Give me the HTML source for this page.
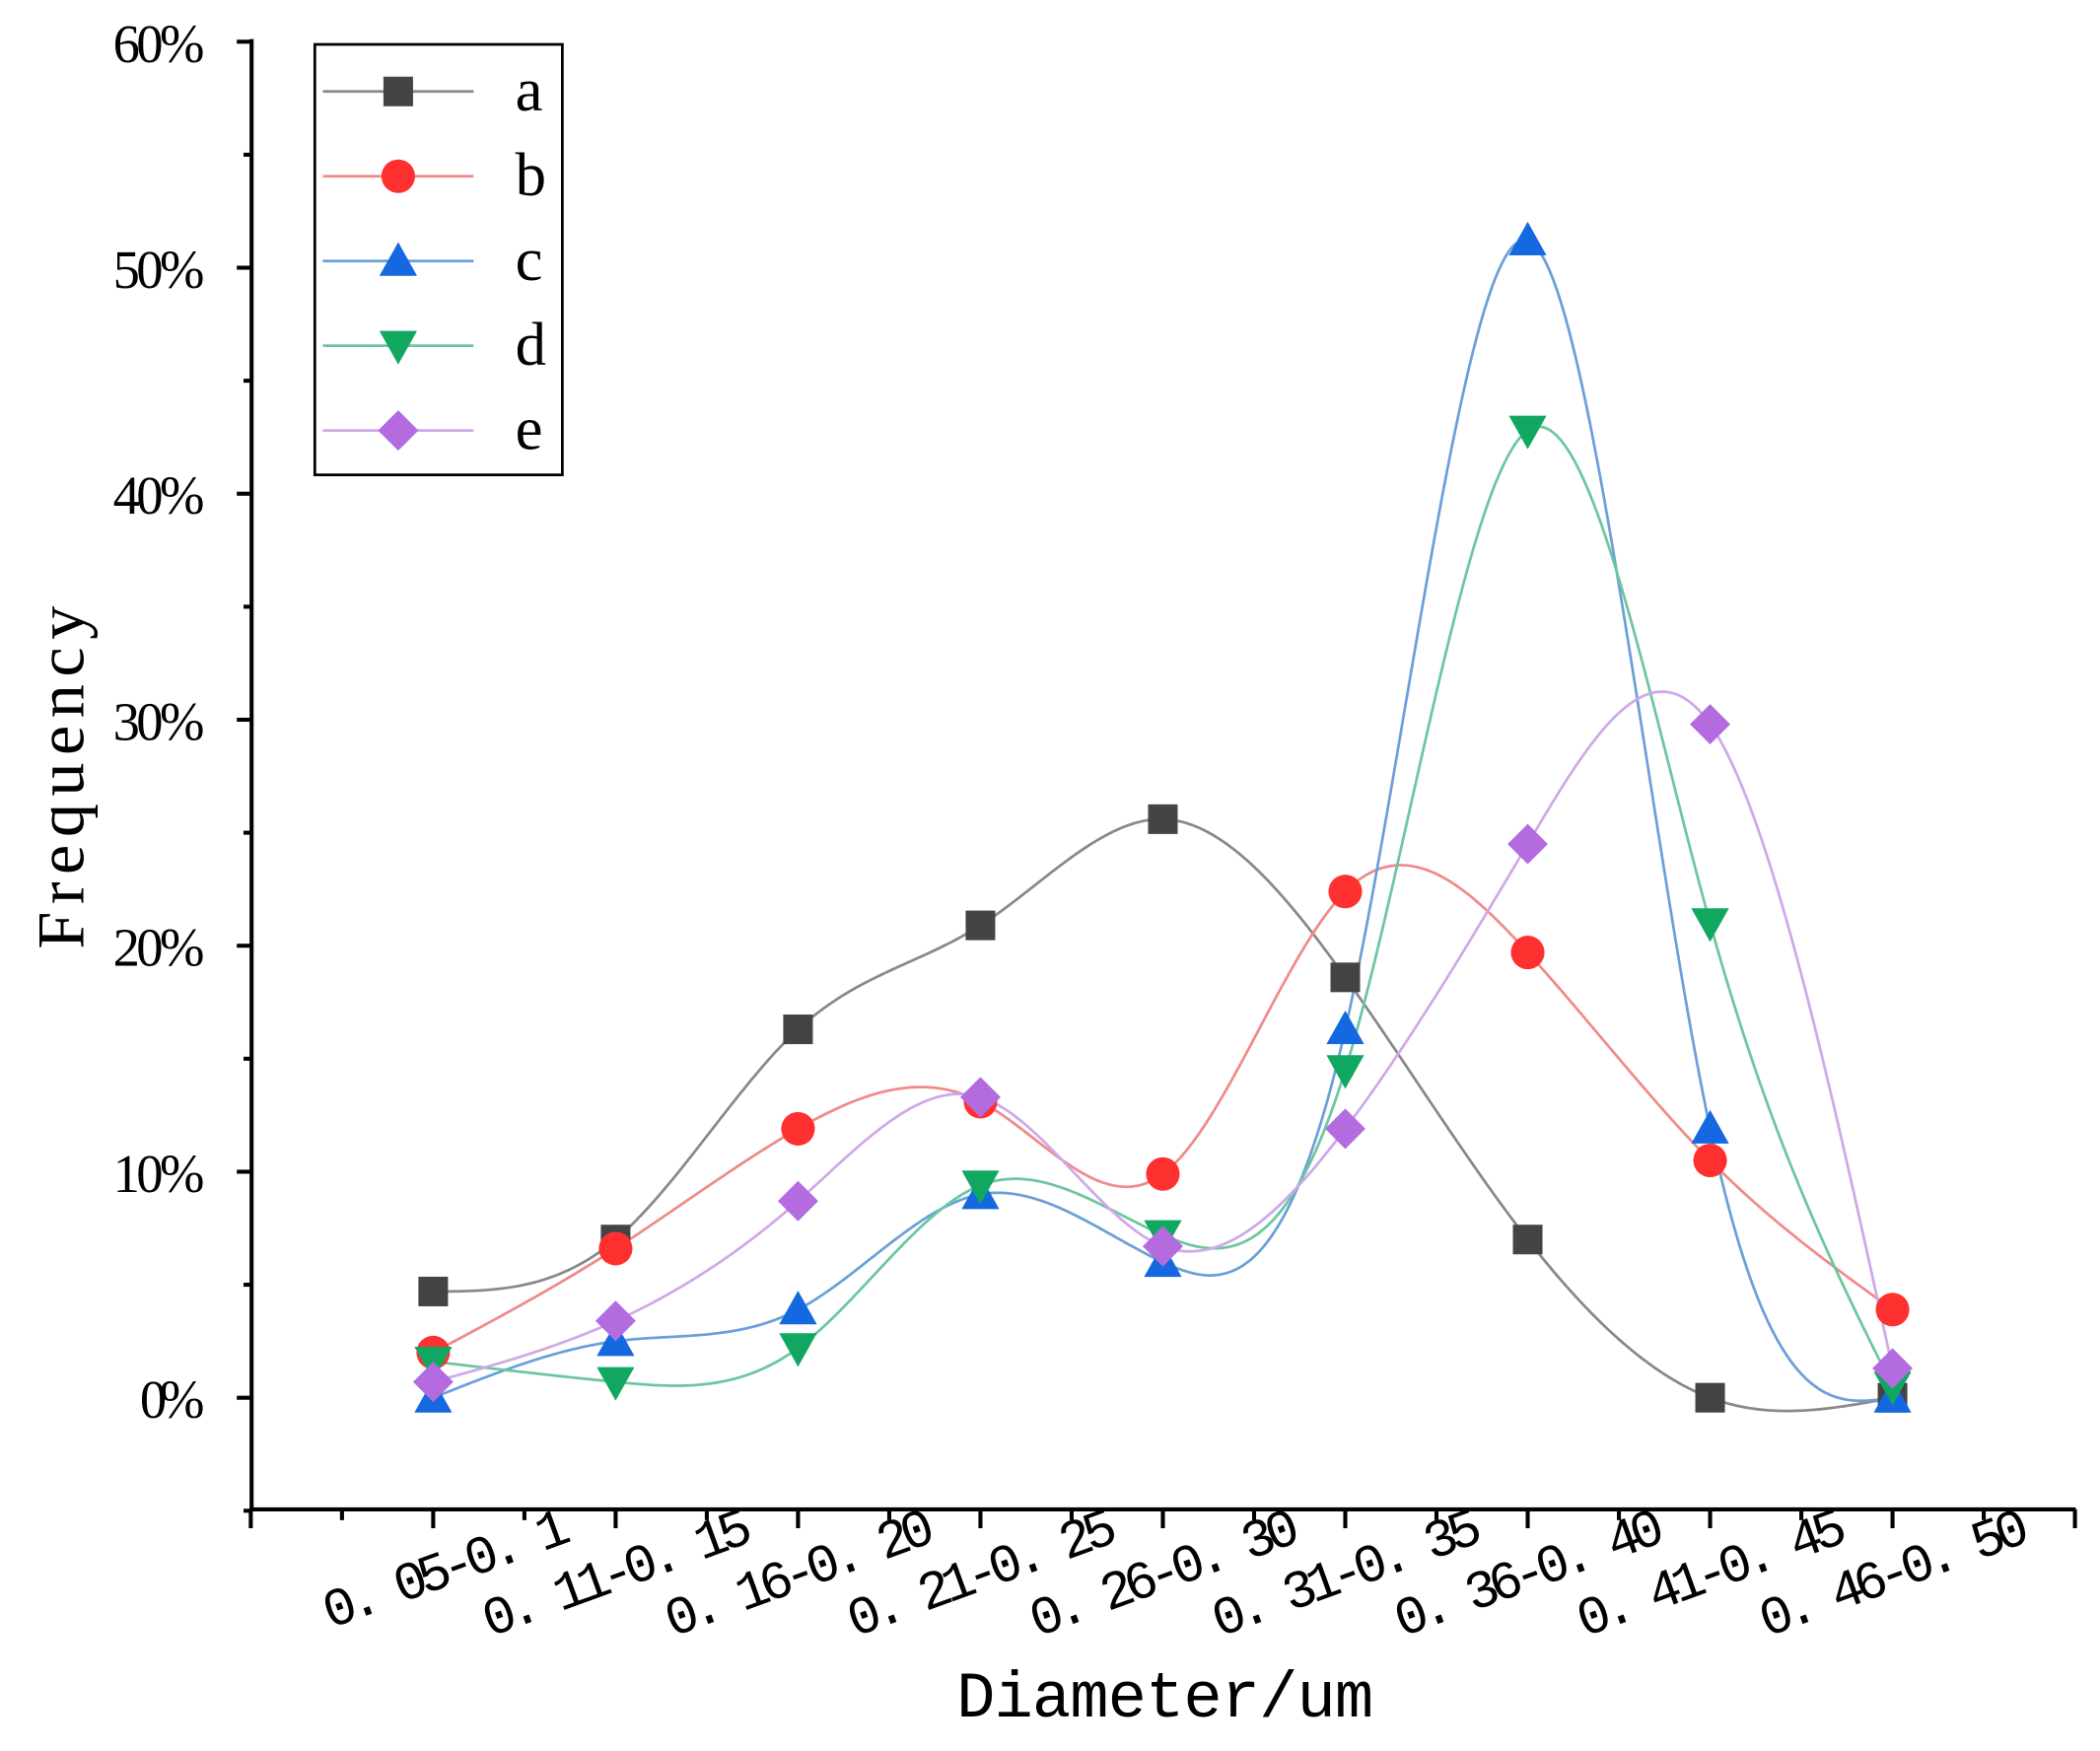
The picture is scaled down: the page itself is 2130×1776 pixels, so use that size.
<!DOCTYPE html>
<html><head><meta charset="utf-8"><style>html,body{margin:0;padding:0;background:#fff}svg{display:block}</style></head>
<body>
<svg id="s" width="2130" height="1776" viewBox="0 0 1561 1301.6" xmlns="http://www.w3.org/2000/svg">
<rect width="1561" height="1302" fill="#fff"/>
<g stroke="#000" stroke-width="3" fill="none">
<line x1="187" y1="29" x2="187" y2="1123"/>
<line x1="185.5" y1="1122" x2="1543" y2="1122"/>
</g>
<g id="yt" stroke="#000" stroke-width="3"></g>
<g id="xt" stroke="#000" stroke-width="3"></g>
<g font-family="Liberation Serif, serif" font-size="40" text-anchor="end" fill="#000">
<text x="152" y="46" textLength="68">60%</text><text x="152" y="214" textLength="68">50%</text><text x="152" y="382" textLength="68">40%</text>
<text x="152" y="550" textLength="68">30%</text><text x="152" y="718" textLength="68">20%</text><text x="152" y="886" textLength="68">10%</text><text x="152" y="1054" textLength="48">0%</text>
</g>
<g id="xl" font-family="Liberation Mono, monospace" font-size="40" fill="#000"></g>
<text transform="translate(62,578) rotate(-90)" text-anchor="middle" font-family="Liberation Serif, serif" font-size="50" textLength="255">Frequency</text>
<text x="866" y="1276" text-anchor="middle" font-family="Liberation Mono, monospace" font-size="48" textLength="310">Diameter/um</text>
<g id="curves"></g>
<g id="marks"></g>
<rect x="234" y="33" width="184" height="320" fill="none" stroke="#000" stroke-width="2"/>
<g id="leg" font-family="Liberation Serif, serif" font-size="46"></g>
</svg>
<script>
const NS="http://www.w3.org/2000/svg";
function el(p,t,a,txt){const e=document.createElementNS(NS,t);for(const k in a)e.setAttribute(k,a[k]);if(txt)e.textContent=txt;document.getElementById(p).appendChild(e);return e;}
const Y=v=>1039-v*16.8;
const X=i=>322+i*135.6;
for(let v=-5;v<=60;v+=5){const y=Y(v);el("yt","line",{x1:187,y1:y,x2:v%10==0?176:181,y2:y});}
for(let i=-1;i<=9;i++){const x=X(i);el("xt","line",{x1:x,y1:1122,x2:x,y2:1136});if(i<9)el("xt","line",{x1:x+67.8,y1:1122,x2:x+67.8,y2:1130});}
const labs=["0. 05-0. 1","0. 11-0. 15","0. 16-0. 20","0. 21-0. 25","0. 26-0. 30","0. 31-0. 35","0. 36-0. 40","0. 41-0. 45","0. 46-0. 50"];
labs.forEach((l,i)=>{const x=X(i)+104,y=1145;el("xl","text",{x:x,y:y,"text-anchor":"end",textLength:i==0?192:210,transform:`rotate(-20 ${x} ${y})`},l);});
const S=[
["a","#444","#888",[4.7,7.0,16.3,20.9,25.6,18.6,7.0,0,0],"sq"],
["b","#ff3030","#f08a8a",[2.0,6.6,11.9,13.1,9.9,22.4,19.7,10.5,3.9],"ci"],
["c","#1469e0","#6a9fd8",[0,2.5,3.9,9.0,6.0,16.3,51.2,11.9,0],"tu"],
["d","#10a860","#6cc6a0",[1.6,0.7,2.2,9.4,7.2,14.5,42.8,21.0,0.5],"td"],
["e","#b46be0","#d0a8e8",[0.7,3.4,8.7,13.3,6.7,11.9,24.5,29.8,1.3],"di"]];
function spline(ys){const n=ys.length;let a=ys.slice();
 let c=new Array(n).fill(0);let l=[],mu=[],z=[];l[0]=1;mu[0]=0;z[0]=0;
 for(let i=1;i<n-1;i++){const al=3*(a[i+1]-2*a[i]+a[i-1]);l[i]=4-mu[i-1];mu[i]=1/l[i];z[i]=(al-z[i-1])/l[i];}
 c[n-1]=0;for(let j=n-2;j>=0;j--){c[j]=j==0?0:z[j]-mu[j]*c[j+1];}
 let pts=[];for(let j=0;j<n-1;j++){const b=(a[j+1]-a[j])-(c[j+1]+2*c[j])/3,dd=(c[j+1]-c[j])/3;
  for(let t=0;t<1;t+=0.02){pts.push([X(j+t),Y(a[j]+b*t+c[j]*t*t+dd*t*t*t)]);}}
 pts.push([X(n-1),Y(a[n-1])]);return pts;}
function marker(g,type,x,y,col){
 if(type=="sq")el(g,"rect",{x:x-11,y:y-11,width:22,height:22,fill:col});
 if(type=="ci")el(g,"circle",{cx:x,cy:y,r:12.5,fill:col});
 if(type=="tu")el(g,"polygon",{points:`${x},${y-14} ${x-14},${y+11} ${x+14},${y+11}`,fill:col});
 if(type=="td")el(g,"polygon",{points:`${x},${y+14} ${x-14},${y-11} ${x+14},${y-11}`,fill:col});
 if(type=="di")el(g,"polygon",{points:`${x},${y-15} ${x+15},${y} ${x},${y+15} ${x-15},${y}`,fill:col});}
S.forEach((s,k)=>{const p=spline(s[3]);el("curves","polyline",{points:p.map(q=>q.join(",")).join(" "),fill:"none",stroke:s[2],"stroke-width":2});
 const ly=68+k*63;el("leg","line",{x1:240,y1:ly,x2:352,y2:ly,stroke:s[2],"stroke-width":2});marker("leg",s[4],296,ly,s[1]);el("leg","text",{x:383,y:ly+14},s[0]);});
S.forEach(s=>s[3].forEach((v,i)=>marker("marks",s[4],X(i),Y(v),s[1])));
</script>
</body></html>
